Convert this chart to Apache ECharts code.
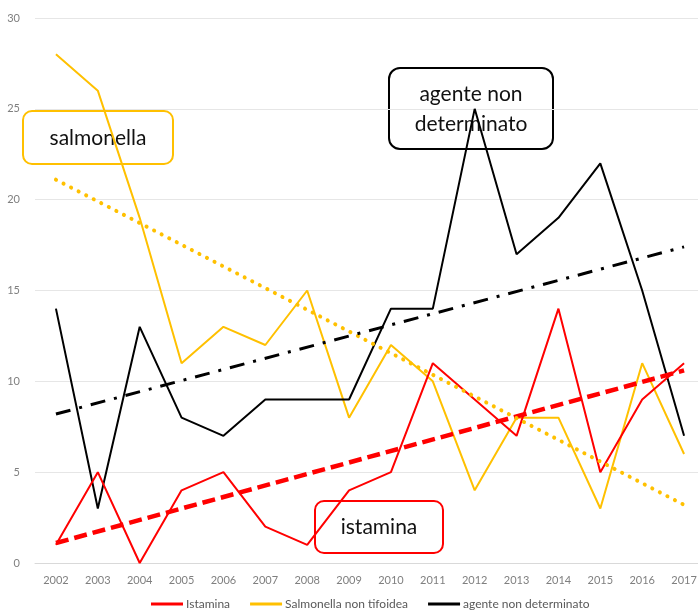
<!DOCTYPE html>
<html><head><meta charset="utf-8">
<script src="https://cdn.jsdelivr.net/npm/echarts@6/dist/echarts.min.js"></script>
<style>html,body{margin:0;padding:0;background:#fff;overflow:hidden}#c{width:705px;height:615px}</style>
</head><body><div id="c"></div>
<script>
const years = ['2002','2003','2004','2005','2006','2007','2008','2009','2010','2011','2012','2013','2014','2015','2016','2017'];
const istamina = [1,5,0,4,5,2,1,4,5,11,9,7,14,5,9,11];
const salmonella = [28,26,19,11,13,12,15,8,12,10,4,8,8,3,11,6];
const agente = [14,3,13,8,7,9,9,9,14,14,25,17,19,22,15,7];
// trend line endpoints (first year, last year)
const trendIstamina = [1.1, 10.6];
const trendSalmonella = [21.1, 3.2];
const trendAgente = [8.2, 17.4];
const seriesNames = ['Istamina','Salmonella non tifoidea','agente non determinato'];
const colors = ['#FF0000','#FFC000','#000000'];
const yTicks = {min:0, max:30, interval:5};

const font = 'Lato, "Open Sans", sans-serif';
const chart = echarts.init(document.getElementById('c'));
function trend(v){ return [[years[0], v[0]], [years[years.length-1], v[1]]]; }
chart.setOption({
  animation:false,
  grid:{left:35,right:0,top:18,bottom:52},
  legend:{bottom:0,left:146,itemWidth:32,itemHeight:3,itemGap:20,icon:'rect',
    data:seriesNames,textStyle:{fontFamily:font,fontSize:12,color:'#595959',padding:[0,0,0,-2]}},
  xAxis:{type:'category',data:years,boundaryGap:true,
    axisLine:{show:true,lineStyle:{color:'#d9d9d9'}},axisTick:{show:false},
    axisLabel:{fontFamily:font,fontSize:11,color:'#7f7f7f',margin:12}},
  yAxis:{type:'value',min:yTicks.min,max:yTicks.max,interval:yTicks.interval,
    axisLine:{show:false},axisTick:{show:false},
    splitLine:{lineStyle:{color:'#e6e6e6',width:1}},
    axisLabel:{fontFamily:font,fontSize:11,color:'#7f7f7f',margin:15}},
  series:[
    {name:seriesNames[0],type:'line',data:istamina,symbol:'none',lineStyle:{color:colors[0],width:2},itemStyle:{color:colors[0]},z:3},
    {name:seriesNames[1],type:'line',data:salmonella,symbol:'none',lineStyle:{color:colors[1],width:2},itemStyle:{color:colors[1]},z:2},
    {name:seriesNames[2],type:'line',data:agente,symbol:'none',lineStyle:{color:colors[2],width:2},itemStyle:{color:colors[2]},z:2},
    {type:'line',data:trend(trendIstamina),symbol:'none',lineStyle:{color:colors[0],width:4.5,type:[13,6]},z:4,silent:true},
    {type:'line',data:trend(trendSalmonella),symbol:'none',lineStyle:{color:colors[1],width:4,type:[0.1,8.4],cap:'round'},z:4,silent:true},
    {type:'line',data:trend(trendAgente),symbol:'none',lineStyle:{color:colors[2],width:3,type:[15,9,3,9]},z:4,silent:true}
  ],
  graphic:[
    {type:'group',left:22,top:110,z:10,children:[
      {type:'rect',shape:{x:0,y:0,width:150,height:53,r:9},style:{fill:'#fff',stroke:'#FFC000',lineWidth:2}},
      {type:'text',style:{x:75,y:27,text:'salmonella',font:'21px '+font,fill:'#111',align:'center',verticalAlign:'middle'}}
    ]},
    {type:'group',left:388,top:67,z:10,children:[
      {type:'rect',shape:{x:0,y:0,width:164,height:81,r:11},style:{fill:'#fff',stroke:'#000',lineWidth:2}},
      {type:'text',style:{x:82,y:41,text:'agente non\ndeterminato',font:'21px '+font,lineHeight:30,fill:'#111',align:'center',verticalAlign:'middle'}}
    ]},
    {type:'group',left:314,top:500,z:10,children:[
      {type:'rect',shape:{x:0,y:0,width:128,height:52,r:9},style:{fill:'#fff',stroke:'#FF0000',lineWidth:2}},
      {type:'text',style:{x:64,y:26,text:'istamina',font:'21px '+font,fill:'#111',align:'center',verticalAlign:'middle'}}
    ]}
  ]
});
</script></body></html>
